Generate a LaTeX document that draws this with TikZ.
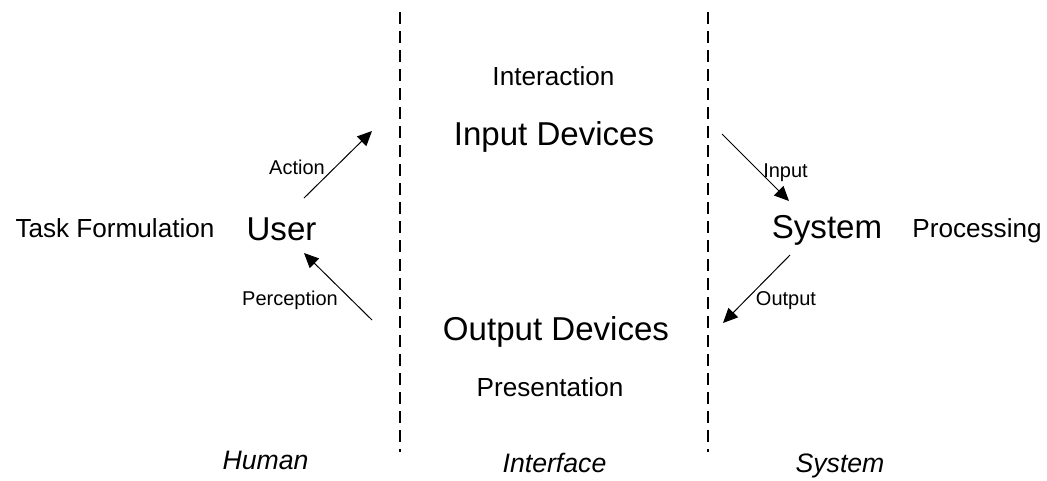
\documentclass[tikz,border=0pt]{standalone}
\usepackage{fontspec}
\setmainfont{Liberation Sans}
\usetikzlibrary{arrows.meta}

\tikzset{
  divider/.style={line width=1.2pt, dash pattern=on 9pt off 5.25pt},
  flow/.style={line width=0.75pt, -{Triangle[length=11pt,width=10pt]}},
  big/.style={anchor=base, inner sep=0pt, font=\fontsize{24.8pt}{28pt}\selectfont},
  mid/.style={anchor=base, inner sep=0pt, font=\fontsize{19.6pt}{23pt}\selectfont},
  small/.style={anchor=base, inner sep=0pt, font=\fontsize{15pt}{18pt}\selectfont},
  zone/.style={anchor=base, inner sep=0pt, font=\fontsize{20pt}{24pt}\selectfont\itshape}
}

\begin{document}
\begin{tikzpicture}[x=0.75pt, y=-0.75pt]
  \useasboundingbox (0,0) rectangle (1047,480);

  % column dividers
  \coordinate (d1top) at (400,12);
  \coordinate (d1bot) at (400,452);
  \coordinate (d2top) at (708,12);
  \coordinate (d2bot) at (708,452);
  \draw[divider] (d1top) -- (d1bot);
  \draw[divider] (d2top) -- (d2bot);

  % labels
  \node[mid] (task) at (115,237) {Task Formulation};
  \node[big] (user) at (281.5,240) {User};
  \node[mid] (interaction) at (553.5,85) {Interaction};
  \node[big] (indev) at (554,145) {Input Devices};
  \node[big] (outdev) at (556,340) {Output Devices};
  \node[mid] (presentation) at (550,396) {Presentation};
  \node[big] (system) at (827,238) {System};
  \node[mid] (processing) at (977,237) {Processing};

  \node[zone] (human) at (265.5,469) {Human};
  \node[zone] (interface) at (554.5,472) {Interface};
  \node[zone] (systemzone) at (840,472) {System};

  % flow arrows between the columns
  \coordinate (actA) at (304,198);
  \coordinate (actB) at (372,131);
  \coordinate (perA) at (372,320);
  \coordinate (perB) at (304,253);
  \coordinate (inA) at (722,134);
  \coordinate (inB) at (789,201);
  \coordinate (outA) at (790,255);
  \coordinate (outB) at (723,323);
  \draw[flow] (actA) -- (actB);
  \draw[flow] (perA) -- (perB);
  \draw[flow] (inA) -- (inB);
  \draw[flow] (outA) -- (outB);

  \node[small] (action) at (297,174) {Action};
  \node[small] (perception) at (290,305) {Perception};
  \node[small] (input) at (785.5,177) {Input};
  \node[small] (output) at (786,305) {Output};
\end{tikzpicture}
\end{document}
